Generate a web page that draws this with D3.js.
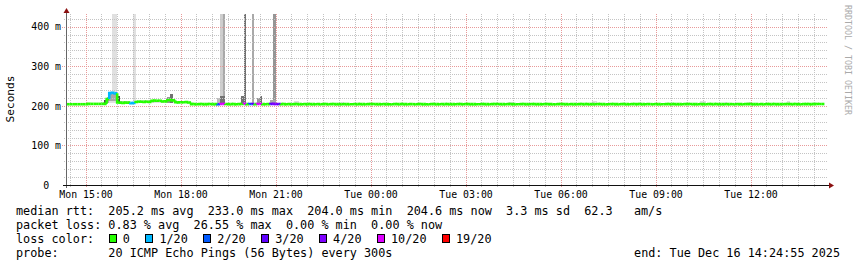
<!DOCTYPE html>
<html><head><meta charset="utf-8">
<script src="https://cdn.jsdelivr.net/npm/d3@7"></script>
<style>
html,body{margin:0;padding:0;background:#fff;}
svg{display:block;}
text{font-family:"DejaVu Sans Mono",monospace;white-space:pre;}
</style></head><body>
<svg id="chart" width="857" height="267"></svg>
<script>
// ---------------- DATA ----------------
const endTimeStr = "2025-12-16 14:24:55";
const firstStepStr = "2025-12-15 14:25:00";
const stepMinutes = 5;
const yMax = 432;

// median RTT per 5-minute step (ms); last step not yet measured
const median = [
  204.1,204.1,204.1,204.1,204.1,204.1,204.1,204.1,204.9,204.9,204.9,204.9,
  204.9,204.9,205.0,217.0,232.1,233.0,231.5,208.3,208.0,207.6,208.2,208.0,
  206.8,207.1,209.8,210.2,210.5,210.0,210.4,209.9,212.6,213.1,212.8,213.0,
  210.9,211.2,214.0,214.3,213.8,209.2,208.8,209.1,208.9,209.3,208.5,204.2,
  204.3,204.1,204.2,204.4,204.3,204.2,204.5,204.3,204.2,204.1,204.6,204.8,
  204.5,204.3,204.2,204.4,204.1,204.3,204.6,204.9,204.4,204.5,204.7,204.3,
  204.6,204.8,204.2,204.1,204.3,204.7,204.9,204.6,204.5,204.2,204.3,204.1,
  204.2,204.0,204.3,204.4,204.2,204.1,204.3,204.2,204.4,204.3,204.1,204.2,
  204.0,204.2,204.3,204.1,204.2,204.4,204.3,204.2,204.1,204.3,204.2,204.0,
  204.1,204.3,204.2,204.4,204.2,204.1,204.2,204.3,204.5,204.4,204.2,204.1,
  204.3,204.2,204.1,204.0,204.2,204.3,204.2,204.4,204.3,204.1,204.2,204.2,
  204.1,204.3,204.4,204.2,204.1,204.0,204.2,204.3,204.2,204.1,204.3,204.2,
  204.4,204.3,204.2,204.1,204.2,204.3,204.1,204.2,204.4,204.3,204.2,204.0,
  204.1,204.2,204.3,204.2,204.1,204.3,204.4,204.5,204.3,204.2,204.1,204.2,
  204.3,204.2,204.0,204.1,204.2,204.3,204.2,204.1,204.2,204.4,204.3,204.2,
  204.1,204.2,204.3,204.2,204.1,204.0,204.2,204.3,204.4,204.2,204.1,204.3,
  204.2,204.1,204.2,204.3,204.2,204.4,204.3,204.2,204.1,204.2,204.3,204.2,
  204.1,204.0,204.2,204.3,204.2,204.1,204.3,204.4,204.2,204.1,204.2,204.3,
  204.2,204.4,204.3,204.1,204.2,204.2,204.1,204.3,204.2,204.0,204.1,204.2,
  204.3,204.2,204.4,204.3,204.2,204.1,204.2,204.3,204.5,204.4,204.2,204.1,
  204.3,204.2,204.1,204.2,204.3,204.2,204.4,204.3,204.2,204.1,204.3,204.2,
  204.2,204.1,204.3,204.2,204.0,204.2,204.3,204.4,204.3,204.2,204.1,204.3,
  204.1,204.2,204.3,204.2,204.4,204.3,204.2,204.1,204.2,204.3,204.4,204.2,
  204.3,204.2,204.1,204.2,204.3,204.4,204.2,204.3,204.5,204.6,204.6,null
];

// steps with packet loss (lost pings out of 20)
const lossSteps  = [16,17,18,24,25,57,58,59,67,69,70,72,73,77,78,79,80];
const lossValues = [ 1, 1, 1, 1, 1, 2,10,10,10, 2, 3,10,10, 3, 4, 4, 3];

// smoke bands: step range, low/high (ms), number of pings in the band
const smokeFrom  = [14,15,16,16,17,19,20,25,26,32,38,39,40,57,58,58,59,66,67,70,72,73,77,78,86,104,167,199,240,249,258,273];
const smokeTo    = [14,15,18,18,18,19,23,25,31,37,38,39,46,57,58,59,59,66,67,70,72,73,78,78,87,104,168,200,241,249,258,273];
const smokeLow   = [205,206,206,211,234,207,206,207,207,208,208,208,206,205,205,205,226,205,205,205,205,205,205,214,205,205,205,205,205,205,205,205];
const smokeHigh  = [216,222,234,230,480,226,211,470,214,216,222,230,212,221,490,226,480,226,500,470,221,226,214,460,213,209,210,212,212,210,209,212];
const smokePings = [  9,  4,  1,  4,  1,  9,  2,  1,  1,  1,  5,  7,  1,  3,  2,  7,  4,  7,  7,  4,  5,  7,  4,  5,  1,  1,  1,  1,  1,  1,  1,  1];

// loss colour legend
const lossLabels     = ["0","1/20","2/20","3/20","4/20","10/20","19/20"];
const lossThresholds = [0,1,2,3,4,10,19];
const lossColors     = ["#26ff00","#00b8ff","#0059ff","#5e00ff","#7e00ff","#dd00ff","#ff0000"];

// axis ticks
const yTickValues = [0,100,200,300,400];
const yTickLabels = ["0  ","100 m","200 m","300 m","400 m"];
const xTickTimes  = ["2025-12-15 15:00:00","2025-12-15 18:00:00","2025-12-15 21:00:00","2025-12-16 00:00:00",
                     "2025-12-16 03:00:00","2025-12-16 06:00:00","2025-12-16 09:00:00","2025-12-16 12:00:00"];
const xTickLabels = ["Mon 15:00","Mon 18:00","Mon 21:00","Tue 00:00","Tue 03:00","Tue 06:00","Tue 09:00","Tue 12:00"];

// statistics
const rttStatNames  = ["avg","max","min","now","sd"];
const rttStatValues = [205.2,233.0,204.0,204.6,3.3];
const amPerSec = 62.3;
const lossStatNames  = ["avg","max","min","now"];
const lossStatValues = [0.83,26.55,0.00,0.00];
const probeText = "20 ICMP Echo Pings (56 Bytes) every 300s";
const endText = "end: Tue Dec 16 14:24:55 2025";
const yTitle = "Seconds";
const watermark = "RRDTOOL / TOBI OETIKER";

// ---------------- LAYOUT ----------------
const P = {left:67, right:827, top:14, bottom:185};
const legendX = 16, legendRows = [215,229,243,257], cw = 7.1;

const parse = d3.timeParse("%Y-%m-%d %H:%M:%S");
const tEnd = parse(endTimeStr), tStart = d3.timeHour.offset(tEnd,-24);
const t0 = parse(firstStepStr);
const stepTime = i => d3.timeMinute.offset(t0, i*stepMinutes);

const x = d3.scaleTime().domain([tStart,tEnd]).range([P.left,P.right]);
const y = d3.scaleLinear().domain([0,yMax]).range([P.bottom,P.top]);

const svg = d3.select("#chart");
svg.append("rect").attr("width",857).attr("height",267).attr("fill","#fff");
svg.append("defs").append("clipPath").attr("id","plot").append("rect")
  .attr("x",P.left).attr("y",P.top).attr("width",P.right-P.left+2).attr("height",P.bottom-P.top);

// smoke
const shade = d3.scaleLinear().domain([1,10]).range(["#e0e0e0","#3a3a3a"]);
const gs = svg.append("g").attr("clip-path","url(#plot)").attr("shape-rendering","crispEdges");
smokeFrom.forEach((f,k)=>{
  const x0 = Math.round(x(stepTime(f))), x1 = Math.round(x(stepTime(smokeTo[k]+1)));
  const yh = Math.round(y(Math.min(smokeHigh[k], yMax+5))), yl = Math.round(y(smokeLow[k]));
  gs.append("rect").attr("x",x0).attr("width",x1-x0).attr("y",yh).attr("height",yl-yh)
    .attr("fill",shade(smokePings[k]));
});

// grid
const gg = svg.append("g").attr("shape-rendering","crispEdges").attr("fill","none");
const majorT = xTickTimes.map(parse);
const minorT = d3.timeMinute.every(30).range(tStart,tEnd).filter(t=>!majorT.some(m=>+m===+t));
gg.selectAll(".vmin").data(minorT).join("line")
  .attr("x1",d=>Math.round(x(d))+0.5).attr("x2",d=>Math.round(x(d))+0.5)
  .attr("y1",P.top).attr("y2",P.bottom+3)
  .attr("stroke","#c4c4c4").attr("stroke-dasharray","1,1");
const minorY = d3.range(20,yMax,20).filter(v=>!yTickValues.includes(v));
gg.selectAll(".hmin").data(minorY).join("line")
  .attr("x1",P.left-3).attr("x2",P.right+1)
  .attr("y1",d=>Math.round(y(d))+0.5).attr("y2",d=>Math.round(y(d))+0.5)
  .attr("stroke","#c4c4c4").attr("stroke-dasharray","1,1");
gg.selectAll(".vmaj").data(majorT).join("line")
  .attr("x1",d=>Math.round(x(d))+0.5).attr("x2",d=>Math.round(x(d))+0.5)
  .attr("y1",P.top).attr("y2",P.bottom+3)
  .attr("stroke","#e89a9a").attr("stroke-dasharray","1,1");
gg.selectAll(".hmaj").data(yTickValues.filter(v=>v>0)).join("line")
  .attr("x1",P.left-5).attr("x2",P.right+1)
  .attr("y1",d=>Math.round(y(d))+0.5).attr("y2",d=>Math.round(y(d))+0.5)
  .attr("stroke","#e89a9a").attr("stroke-dasharray","1,1");

// median line coloured by loss
const lossAt = i => { const k = lossSteps.indexOf(i); return k<0?0:lossValues[k]; };
const lossColor = n => { let c = lossColors[0]; lossThresholds.forEach((t,j)=>{ if(n>=t) c = lossColors[j]; }); return c; };
const line = d3.line().x(d=>x(d[0])).y(d=>y(d[1]));
const gm = svg.append("g").attr("clip-path","url(#plot)").attr("fill","none");
median.forEach((v,i)=>{
  if(v==null) return;
  const prev = (i>0 && median[i-1]!=null) ? median[i-1] : v;
  gm.append("path").attr("d", line([[stepTime(i),prev],[stepTime(i),v],[stepTime(i+1),v]]))
    .attr("stroke", lossColor(lossAt(i))).attr("stroke-width",2.6).attr("stroke-linecap","butt");
});

// axes
const ax = svg.append("g").attr("transform",`translate(0,${P.bottom})`)
  .call(d3.axisBottom(x).tickValues(majorT).tickFormat((d,i)=>xTickLabels[i]).tickSize(0).tickPadding(6));
ax.select(".domain").remove();
ax.selectAll("text").attr("font-size","9.9px").attr("fill","#000").attr("font-family","DejaVu Sans Mono");
const ay = svg.append("g").attr("transform",`translate(${P.left-6},0)`)
  .call(d3.axisLeft(y).tickValues(yTickValues).tickFormat((d,i)=>yTickLabels[i]).tickSize(0).tickPadding(0));
ay.select(".domain").remove();
ay.selectAll("text").attr("font-size","9.9px").attr("fill","#000").attr("font-family","DejaVu Sans Mono");

const ga = svg.append("g").attr("shape-rendering","crispEdges");
ga.append("line").attr("x1",P.left-0.5).attr("x2",P.left-0.5).attr("y1",10).attr("y2",P.bottom+3)
  .attr("stroke","#666");
ga.append("line").attr("x1",P.left-4).attr("x2",P.right+4).attr("y1",P.bottom+0.5).attr("y2",P.bottom+0.5)
  .attr("stroke","#111");
svg.append("path").attr("d",`M${P.left-3.5},13 L${P.left-0.5},8 L${P.left+2.5},13 Z`).attr("fill","#8b1010");
svg.append("path").attr("d",`M${P.right+2},${P.bottom-2.5} L${P.right+7},${P.bottom+0.5} L${P.right+2},${P.bottom+3.5} Z`).attr("fill","#8b1010");

// y title
svg.append("text").attr("transform","translate(14,99) rotate(-90)").attr("text-anchor","middle")
  .attr("font-size","11.2px").attr("fill","#000").text(yTitle);
// watermark
svg.append("text").attr("transform","translate(845,60) rotate(90)").attr("text-anchor","middle")
  .attr("font-size","8.3px").attr("fill","#aaa").text(watermark);

// legend
const lg = svg.append("g").attr("font-size","11.8px").attr("fill","#000");
const row1 = "median rtt:  " + rttStatValues.map((v,i)=>v.toFixed(1)+" ms "+rttStatNames[i]).join("  ")
  + "  " + amPerSec.toFixed(1) + "   am/s";
const row2 = "packet loss: " + lossStatValues.map((v,i)=>v.toFixed(2)+" % "+lossStatNames[i]).join("  ");
lg.append("text").attr("x",legendX).attr("y",legendRows[0]).text(row1);
lg.append("text").attr("x",legendX).attr("y",legendRows[1]).text(row2);
lg.append("text").attr("x",legendX).attr("y",legendRows[2]).text("loss color:");
let sx = legendX + 13*cw + 0.5;
lossLabels.forEach((lab,j)=>{
  lg.append("rect").attr("x",Math.round(sx)+0.5).attr("y",legendRows[2]-8.5).attr("width",7).attr("height",8)
    .attr("fill",lossColors[j]).attr("stroke","#000").attr("stroke-width",1).attr("shape-rendering","crispEdges");
  lg.append("text").attr("x",sx+14).attr("y",legendRows[2]).text(lab);
  sx += 29.5 + cw*lab.length;
});
lg.append("text").attr("x",legendX).attr("y",legendRows[3]).text("probe:       " + probeText);
lg.append("text").attr("x",840).attr("y",legendRows[3]).attr("text-anchor","end").text(endText);
</script>
</body></html>
